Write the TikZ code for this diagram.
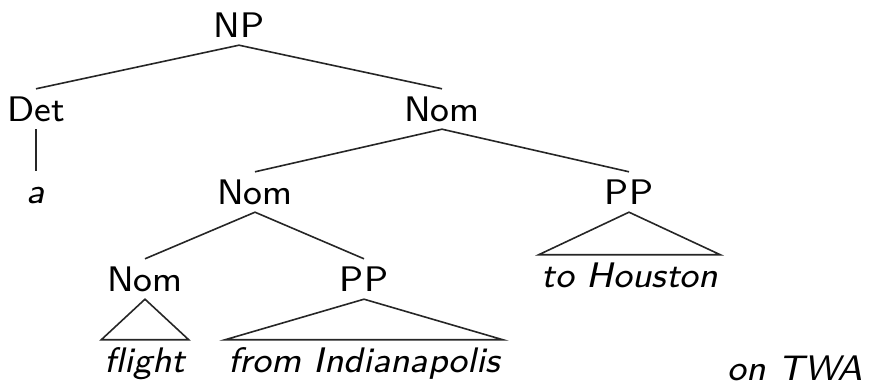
\documentclass[tikz,border=0pt]{standalone}
\usepackage{fontspec}
\setsansfont{lmsans8-regular.otf}[ItalicFont=lmsans8-oblique.otf]
\begin{document}
\begin{tikzpicture}[x=1pt,y=-1pt,
  lab/.style={anchor=base,inner sep=0pt,text height=33pt,text depth=7pt,font=\sffamily\fontsize{35.5}{40}\selectfont},
  leaf/.style={lab,font=\sffamily\itshape\fontsize{35.5}{40}\selectfont},
  edge/.style={line width=1.6pt,black!85}]
\useasboundingbox (0,0) rectangle (871,387);
\node[lab] (NP) at (239,38) {NP};
\node[lab] (Det) at (36,122) {Det};
\node[lab] (Nom1) at (442,122) {Nom};
\node[leaf] (a) at (36,204) {a};
\node[lab] (Nom2) at (255,205) {Nom};
\node[lab] (PP1) at (629,205) {PP};
\node[lab] (Nom3) at (145,292) {Nom};
\node[lab] (PP2) at (364,292) {PP};
\node[leaf] (hou) at (630,288) {to Houston};
\node[leaf] (flight) at (145,373) {flight};
\node[leaf] (indi) at (364,373) {from Indianapolis};
\node[leaf,text depth=0pt] (twa) at (795,381) {on TWA};
\draw[edge] (Det.north) -- (NP.south) -- (Nom1.north);
\draw[edge] (Det.south) -- (a.north);
\draw[edge] (Nom2.north) -- (Nom1.south) -- (PP1.north);
\draw[edge] (Nom3.north) -- (Nom2.south) -- (PP2.north);
\draw[edge] ([xshift=-3pt]flight.north west) -- (Nom3.south) -- ([xshift=3pt]flight.north east) -- cycle;
\draw[edge] ([xshift=-3pt]indi.north west) -- (PP2.south) -- ([xshift=3pt]indi.north east) -- cycle;
\draw[edge] ([xshift=-3pt]hou.north west) -- (PP1.south) -- ([xshift=2pt]hou.north east) -- cycle;
\end{tikzpicture}
\end{document}
